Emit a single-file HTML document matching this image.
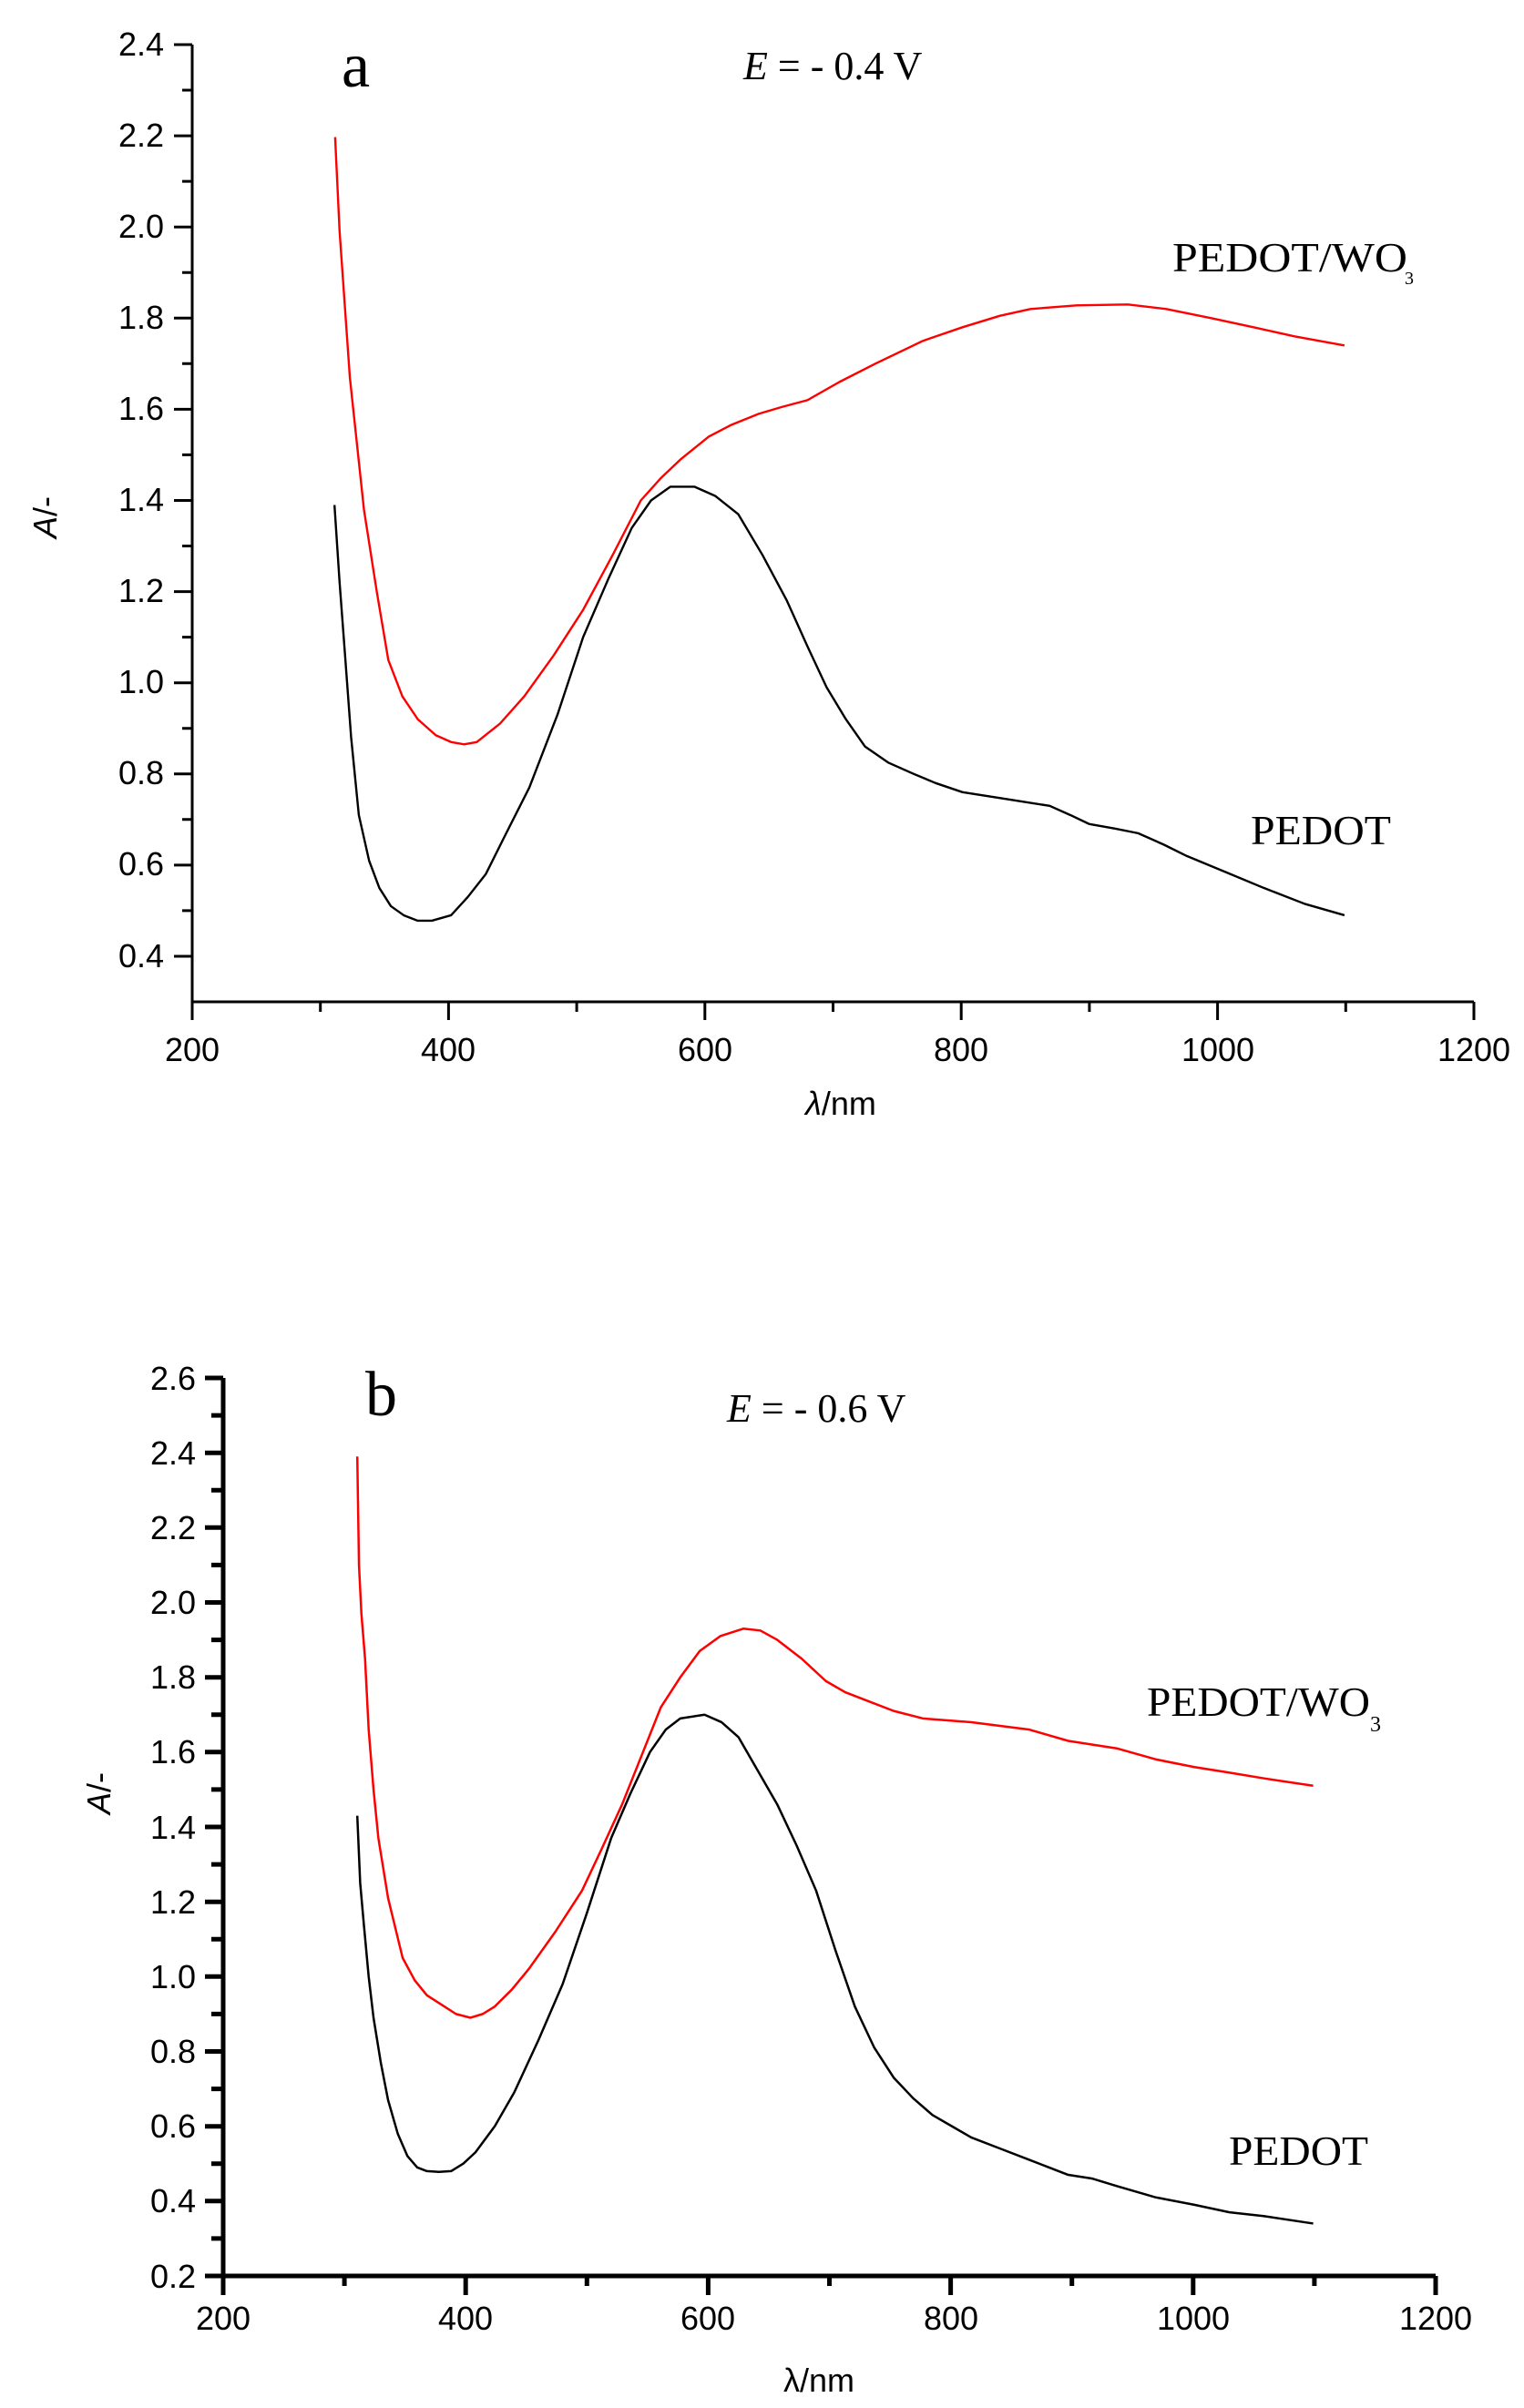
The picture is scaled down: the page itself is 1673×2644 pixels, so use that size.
<!DOCTYPE html>
<html><head><meta charset="utf-8"><style>
html,body{margin:0;padding:0;background:#fff;}
svg{display:block;}
.t{font-family:"Liberation Sans",sans-serif;font-size:36px;fill:#000;}
.s{font-family:"Liberation Serif",serif;fill:#000;}
</style></head><body>
<svg width="1673" height="2644" viewBox="0 0 1673 2644" xmlns="http://www.w3.org/2000/svg">
<rect width="1673" height="2644" fill="#fff"/>

<!-- ===== Chart a ===== -->
<g stroke="#000" stroke-width="3" fill="none">
<path d="M211 49 V1100 H1618"/>
<path d="M211 1100v20M492.4 1100v20M773.8 1100v20M1055.2 1100v20M1336.6 1100v20M1618 1100v20"/>
<path d="M351.7 1100v11M633.1 1100v11M914.5 1100v11M1195.9 1100v11M1477.3 1100v11"/>
<path d="M211 49h-20M211 149.1h-20M211 249.2h-20M211 349.3h-20M211 449.4h-20M211 549.5h-20M211 649.6h-20M211 749.7h-20M211 849.8h-20M211 949.9h-20M211 1050h-20"/>
<path d="M211 99h-11M211 199.1h-11M211 299.2h-11M211 399.3h-11M211 499.4h-11M211 599.5h-11M211 699.6h-11M211 799.7h-11M211 899.8h-11M211 999.9h-11"/>
</g>
<g class="t" text-anchor="end">
<text x="180" y="61">2.4</text><text x="180" y="161">2.2</text><text x="180" y="261">2.0</text>
<text x="180" y="361">1.8</text><text x="180" y="461">1.6</text><text x="180" y="561">1.4</text>
<text x="180" y="661">1.2</text><text x="180" y="761">1.0</text><text x="180" y="861">0.8</text>
<text x="180" y="961">0.6</text><text x="180" y="1062">0.4</text>
</g>
<g class="t" text-anchor="middle">
<text x="211" y="1165">200</text><text x="492" y="1165">400</text><text x="774" y="1165">600</text>
<text x="1055" y="1165">800</text><text x="1337" y="1165">1000</text><text x="1618" y="1165">1200</text>
</g>
<text class="t" x="923" y="1224" text-anchor="middle" font-size="44"><tspan font-style="italic">λ</tspan>/nm</text>
<text class="t" transform="translate(62 568) rotate(-90)" text-anchor="middle" font-size="44"><tspan font-style="italic">A</tspan>/-</text>
<text class="s" x="375" y="95" font-size="70">a</text>
<text class="s" x="816" y="87" font-size="44"><tspan font-style="italic">E</tspan> = - 0.4 V</text>
<text class="s" x="1287" y="298" font-size="46" textLength="258" lengthAdjust="spacingAndGlyphs">PEDOT/WO</text>
<text class="s" x="1542" y="312" font-size="20">3</text>
<text class="s" x="1373" y="927" font-size="46" textLength="154" lengthAdjust="spacingAndGlyphs">PEDOT</text>

<g transform="matrix(1.407 0 0 -500.5 -70.4 1250.2)" fill="none" stroke-width="2.4" stroke-linejoin="round">
<polyline vector-effect="non-scaling-stroke" stroke="#ff0000" points="311.5,2.197 315,1.99 323,1.67 334,1.38 344,1.2 353,1.05 364,0.97 376,0.92 390,0.885 402,0.87 412,0.865 422,0.87 440,0.91 459,0.97 482,1.06 505,1.16 528,1.28 550,1.40 566,1.45 581,1.49 603,1.54 620,1.565 642,1.59 660,1.605 680,1.62 705,1.66 733,1.70 770,1.75 801,1.78 830,1.805 854,1.82 890,1.828 930,1.83 960,1.82 995,1.80 1028,1.78 1060,1.76 1099,1.74"/>
<polyline vector-effect="non-scaling-stroke" stroke="#000" points="311,1.39 315,1.22 319,1.07 324,0.88 330,0.71 338,0.61 346,0.55 355,0.51 365,0.49 376,0.478 387,0.478 402,0.49 415,0.53 429,0.58 445,0.67 463,0.77 485,0.93 505,1.10 525,1.23 543,1.34 558,1.40 573,1.43 592,1.43 608,1.41 626,1.37 645,1.28 664,1.18 680,1.08 695,0.99 710,0.92 725,0.86 743,0.825 763,0.80 780,0.78 801,0.76 835,0.745 869,0.73 885,0.71 900,0.69 920,0.68 938,0.67 958,0.645 976,0.62 1006,0.585 1036,0.55 1068,0.515 1099,0.49"/>
</g>

<!-- ===== Chart b ===== -->
<g stroke="#000" stroke-width="5" fill="none">
<path d="M245 1513 V2499 H1576"/>
<path d="M245 2499v21M511.2 2499v21M777.4 2499v21M1043.6 2499v21M1309.8 2499v21M1576 2499v21"/>
<path d="M378.1 2499v11M644.3 2499v11M910.5 2499v11M1176.7 2499v11M1442.9 2499v11"/>
<path d="M245 1513h-20M245 1595.2h-20M245 1677.3h-20M245 1759.5h-20M245 1841.7h-20M245 1923.8h-20M245 2006h-20M245 2088.2h-20M245 2170.3h-20M245 2252.5h-20M245 2334.7h-20M245 2416.8h-20M245 2499h-20"/>
<path d="M245 1554.1h-13M245 1636.2h-13M245 1718.4h-13M245 1800.6h-13M245 1882.7h-13M245 1964.9h-13M245 2047.1h-13M245 2129.2h-13M245 2211.4h-13M245 2293.6h-13M245 2375.7h-13M245 2457.9h-13"/>
</g>
<g class="t" text-anchor="end" font-size="38">
<text x="215" y="1526">2.6</text><text x="215" y="1608">2.4</text><text x="215" y="1690">2.2</text>
<text x="215" y="1772">2.0</text><text x="215" y="1854">1.8</text><text x="215" y="1936">1.6</text>
<text x="215" y="2019">1.4</text><text x="215" y="2101">1.2</text><text x="215" y="2183">1.0</text>
<text x="215" y="2265">0.8</text><text x="215" y="2347">0.6</text><text x="215" y="2429">0.4</text>
<text x="215" y="2512">0.2</text>
</g>
<g class="t" text-anchor="middle" font-size="38">
<text x="245" y="2558">200</text><text x="511" y="2558">400</text><text x="777" y="2558">600</text>
<text x="1044" y="2558">800</text><text x="1310" y="2558">1000</text><text x="1576" y="2558">1200</text>
</g>
<text class="t" x="899" y="2626" text-anchor="middle" font-size="44">λ/nm</text>
<text class="t" transform="translate(121 1969) rotate(-90)" text-anchor="middle" font-size="44"><tspan font-style="italic">A</tspan>/-</text>
<text class="s" x="401" y="1554" font-size="70">b</text>
<text class="s" x="798" y="1561" font-size="44"><tspan font-style="italic">E</tspan> = - 0.6 V</text>
<text class="s" x="1259" y="1884" font-size="46" textLength="245" lengthAdjust="spacingAndGlyphs">PEDOT/WO</text>
<text class="s" x="1504" y="1901" font-size="24">3</text>
<text class="s" x="1349" y="2377" font-size="46" textLength="153" lengthAdjust="spacingAndGlyphs">PEDOT</text>

<g transform="matrix(1.331 0 0 -410.8 -21.2 2581.1)" fill="none" stroke-width="2.5" stroke-linejoin="round">
<polyline vector-effect="non-scaling-stroke" stroke="#ff0000" points="310.6,2.39 312,2.1 314,1.97 317,1.85 320,1.66 324,1.5 328,1.37 336,1.21 348,1.05 358,0.99 368,0.95 380,0.925 392,0.90 404,0.89 414,0.90 424,0.92 438,0.965 452,1.02 474,1.12 496,1.23 512,1.34 529,1.46 545,1.59 561,1.72 577,1.80 593,1.87 610,1.91 629,1.93 643,1.925 657,1.90 677,1.85 697,1.79 713,1.76 729,1.74 753,1.71 777,1.69 817,1.68 865,1.66 897,1.63 937,1.61 970,1.58 1001,1.56 1030,1.545 1058,1.53 1099,1.51"/>
<polyline vector-effect="non-scaling-stroke" stroke="#000" points="310.6,1.43 313,1.25 316,1.14 320,1.0 324,0.89 330,0.77 336,0.67 344,0.58 352,0.52 360,0.49 368,0.48 378,0.478 388,0.48 398,0.50 408,0.53 424,0.60 440,0.69 460,0.83 480,0.98 500,1.17 520,1.37 536,1.49 552,1.60 565,1.66 577,1.69 597,1.70 611,1.68 625,1.64 641,1.55 657,1.46 673,1.35 689,1.23 705,1.07 721,0.92 737,0.81 753,0.73 769,0.675 785,0.63 801,0.60 817,0.57 841,0.54 865,0.51 881,0.49 897,0.47 917,0.46 937,0.44 969,0.41 1001,0.39 1030,0.37 1058,0.36 1099,0.34"/>
</g>
</svg>
</body></html>
